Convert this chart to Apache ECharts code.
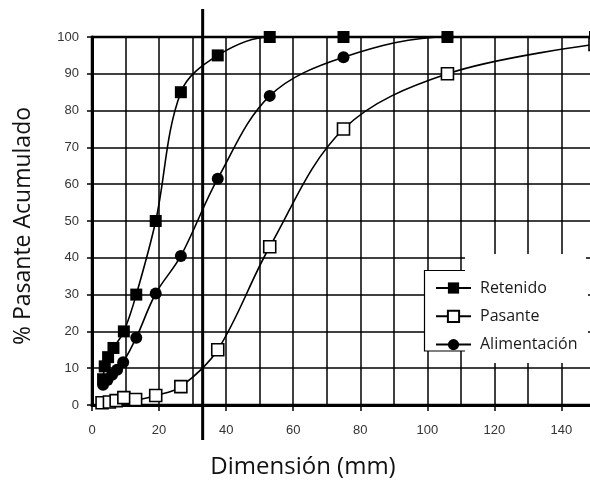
<!DOCTYPE html>
<html>
<head>
<meta charset="utf-8">
<script src="https://cdn.jsdelivr.net/npm/echarts@6/dist/echarts.min.js"></script>
<style>
html,body{margin:0;padding:0;background:#fff;}
#chart{width:590px;height:483px;}
</style>
</head>
<body>
<div id="chart"></div>
<script>
// ---- data ----
const retenidoX = [3.3, 3.8, 4.8, 6.4, 9.5, 13.2, 19, 26.5, 37.5, 53, 75, 106, 150];
const retenidoY = [7, 10.5, 13, 15.5, 20, 30, 50, 85, 95, 100, 100, 100, 100];
const pasanteX = [3, 5.2, 7.2, 9.5, 13, 19, 26.5, 37.5, 53, 75, 106, 150];
const pasanteY = [0.6, 0.8, 1.2, 2, 1.5, 2.6, 5, 15, 43, 75, 90, 98];
const alimX = [3.3, 4.6, 6, 7.5, 9.3, 13.2, 19, 26.5, 37.5, 53, 75, 106, 150];
const alimY = [5.5, 6.8, 8.2, 9.6, 11.6, 18.3, 30.3, 40.5, 61.5, 84, 94.5, 100, 100];
const seriesNames = ['Retenido', 'Pasante', 'Alimentación'];
const CUT_SIZE = 33;
const yTicks = [0, 10, 20, 30, 40, 50, 60, 70, 80, 90, 100];
const xTicks = [0, 20, 40, 60, 80, 100, 120, 140];
const xTitle = 'Dimensión (mm)';
const yTitle = '% Pasante Acumulado';

const pairs = (xs, ys) => xs.map((x, i) => [x, ys[i]]);

const chart = echarts.init(document.getElementById('chart'), null, {renderer: 'canvas'});

const gridLine = {show: true, lineStyle: {color: '#000', width: 1.5}};
const labelFont = {fontFamily: 'Liberation Sans', fontSize: 13, color: '#333'};

const option = {
  animation: false,
  backgroundColor: '#fff',
  grid: {left: 92, top: 37, right: -5, bottom: 78, show: true, borderColor: '#000', borderWidth: 2.5,
         backgroundColor: 'transparent', containLabel: false, outerBoundsMode: 'none'},
  xAxis: [
    {
      type: 'value', min: 0, max: 150, interval: 10,
      axisLine: {show: true, lineStyle: {color: '#000', width: 3}},
      axisTick: {show: false},
      axisLabel: {show: false},
      splitLine: gridLine
    },
    {
      type: 'value', min: 0, max: 150, interval: 20, position: 'bottom',
      axisLine: {show: false},
      axisTick: {show: true, length: 6, lineStyle: {color: '#000', width: 1.5}},
      axisLabel: Object.assign({margin: 19, formatter: v => xTicks.includes(v) ? String(v) : ''}, labelFont),
      splitLine: {show: false}
    }
  ],
  yAxis: {
    type: 'value', min: 0, max: 100, interval: 10,
    axisLine: {show: true, lineStyle: {color: '#000', width: 3}},
    axisTick: {show: true, length: 5, lineStyle: {color: '#000', width: 1.5}},
    axisLabel: Object.assign({margin: 13, formatter: v => yTicks.includes(v) ? String(v) : ''}, labelFont),
    splitLine: gridLine
  },
  legend: {
    orient: 'vertical', left: 430, top: 273,
    itemWidth: 35, itemHeight: 14, itemGap: 8.3,
    data: seriesNames,
    textStyle: {fontFamily: 'Open Sans', fontSize: 16, color: '#1a1a1a', lineHeight: 20, padding: [0, 0, 0, 4]},
    z: 6
  },
  series: [
    {
      name: seriesNames[0], type: 'line', xAxisIndex: 0, data: pairs(retenidoX, retenidoY),
      smooth: 0.35, symbol: 'rect', symbolSize: 12,
      itemStyle: {color: '#000'}, lineStyle: {color: '#000', width: 1.6}, z: 3
    },
    {
      name: seriesNames[1], type: 'line', xAxisIndex: 0, data: pairs(pasanteX, pasanteY),
      smooth: 0.35, symbol: 'rect', symbolSize: 12,
      itemStyle: {color: '#fff', borderColor: '#000', borderWidth: 1.6},
      lineStyle: {color: '#000', width: 1.6}, z: 3
    },
    {
      name: seriesNames[2], type: 'line', xAxisIndex: 0, data: pairs(alimX, alimY),
      smooth: 0.35, symbol: 'circle', symbolSize: 12,
      itemStyle: {color: '#000'}, lineStyle: {color: '#000', width: 1.6}, z: 2
    }
  ]
};
chart.setOption(option);

// decorations computed through the axes
const cutX = chart.convertToPixel({xAxisIndex: 0}, CUT_SIZE);
chart.setOption({
  graphic: [
    {type: 'rect', z: 4, shape: {x: 424, y: 270, width: 164, height: 81}, style: {fill: '#fff'}},
    {type: 'rect', z: 4, shape: {x: 465, y: 254, width: 121, height: 109}, style: {fill: '#fff'}},
    {type: 'polyline', z: 5, shape: {points: [[465, 270.5], [424.5, 270.5], [424.5, 351], [465, 351]]}, style: {stroke: '#000', lineWidth: 1.2, fill: null}},
    {type: 'line', z: 7, shape: {x1: cutX, y1: 9, x2: cutX, y2: 440}, style: {stroke: '#000', lineWidth: 3}},
    {type: 'text', z: 7, x: 303, y: 467, style: {text: xTitle, fontFamily: 'Open Sans', fontSize: 24, fill: '#111', textAlign: 'center', textVerticalAlign: 'middle'}},
    {type: 'text', z: 7, x: 23, y: 226, rotation: Math.PI / 2, style: {text: yTitle, fontFamily: 'Open Sans', fontSize: 23, fill: '#111', textAlign: 'center', textVerticalAlign: 'middle'}}
  ]
});
</script>
</body>
</html>
